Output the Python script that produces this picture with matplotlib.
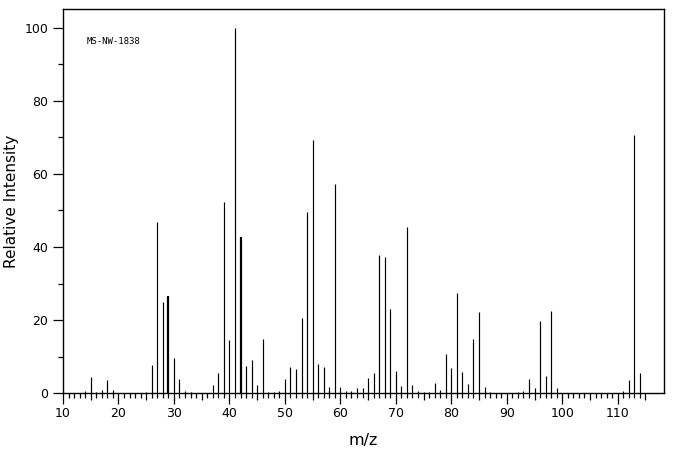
import matplotlib
matplotlib.use("Agg")
import matplotlib.pyplot as plt
from matplotlib.ticker import FixedLocator, NullFormatter

# m/z values and relative intensities
mz = [14, 15, 16, 17, 18, 19, 25, 26, 27, 28, 29, 30, 31, 32, 33,
      37, 38, 39, 40, 41, 42, 43, 44, 45, 46, 47, 48, 49,
      50, 51, 52, 53, 54, 55, 56, 57, 58, 59,
      60, 61, 62, 63, 64, 65, 66, 67, 68, 69,
      70, 71, 72, 73, 74, 75, 76, 77, 78, 79,
      80, 81, 82, 83, 84, 85, 86, 87,
      92, 93, 94, 95, 96, 97, 98, 99,
      111, 112, 113, 114]
intensity = [0.6, 4.5, 0.4, 0.9, 3.6, 0.9, 0.4, 7.7, 46.9, 25.0, 26.7, 9.7, 3.9, 0.6, 0.4,
             2.3, 5.6, 52.3, 14.6, 100.0, 42.7, 7.5, 9.1, 2.3, 14.9, 0.3, 0.3, 0.6,
             3.9, 7.2, 6.7, 20.6, 49.6, 69.3, 8.0, 7.2, 1.7, 57.2,
             1.7, 0.6, 0.7, 1.5, 1.5, 4.2, 5.6, 37.8, 37.3, 23.1,
             6.1, 2.0, 45.5, 2.3, 0.6, 0.3, 0.4, 2.8, 0.9, 10.8,
             6.9, 27.4, 5.8, 2.6, 14.9, 22.2, 1.7, 0.3,
             0.4, 0.6, 3.9, 1.5, 19.8, 4.7, 22.5, 1.5,
             0.6, 3.6, 70.5, 5.6]

x_major = list(range(10, 111, 10))
x_mid = list(range(15, 116, 10))
x_minor = [v for v in range(10, 116) if v % 5 != 0]
y_major = [0, 20, 40, 60, 80, 100]
y_minor = [10, 30, 50, 70, 90]
label_text = "MS-NW-1838"

fig = plt.figure(figsize=(6.76, 4.55), dpi=100)
ax = fig.add_axes([0.0932, 0.1356, 0.9827 - 0.0932, 0.9795 - 0.1356])

thick = {29, 42}
widths = [1.6 if m in thick else 0.85 for m in mz]
ax.vlines(mz, 0, intensity, colors="black", linewidths=widths)

ax.set_xlim(10, 118.4)
ax.set_ylim(0, 105)

for s in ax.spines.values():
    s.set_linewidth(1.0)
    s.set_color("black")

ax.xaxis.set_major_locator(FixedLocator(x_major))
ax.xaxis.set_minor_locator(FixedLocator(x_minor))
ax.yaxis.set_major_locator(FixedLocator(y_major))
ax.yaxis.set_minor_locator(FixedLocator(y_minor))
ax.yaxis.set_minor_formatter(NullFormatter())
ax.xaxis.set_minor_formatter(NullFormatter())

ax.tick_params(axis="x", which="major", direction="out", length=7.7, width=0.9,
               labelsize=9, pad=2.5)
ax.tick_params(axis="x", which="minor", direction="out", length=3.6, width=0.9)
ax.tick_params(axis="y", which="major", direction="out", length=7.2, width=0.9,
               labelsize=9, pad=3.5)
ax.tick_params(axis="y", which="minor", direction="out", length=3.6, width=0.9)

sec = ax.secondary_xaxis("bottom")
sec.spines["bottom"].set_visible(False)
sec.xaxis.set_major_locator(FixedLocator(x_mid))
sec.xaxis.set_major_formatter(NullFormatter())
sec.tick_params(axis="x", which="major", direction="out", length=5.2, width=0.9)

ax.set_xlabel("m/z", fontsize=11.5, labelpad=9)
ax.set_ylabel("Relative Intensity", fontsize=11, labelpad=4)

ax.text(87 / 676, 1 - 41.3 / 455, label_text, transform=fig.transFigure,
        fontsize=6.5, family="DejaVu Sans Mono", ha="left", va="center")

fig.savefig("out.png", dpi=100)
